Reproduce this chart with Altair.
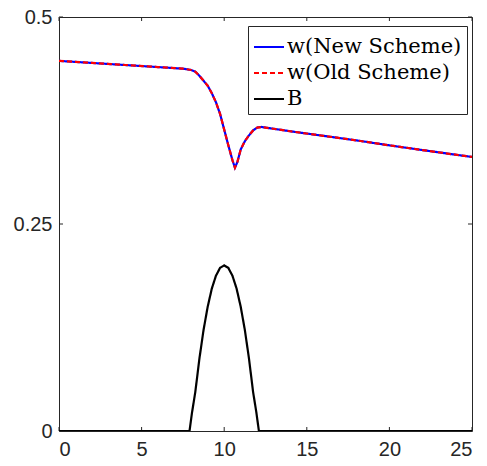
import altair as alt
import pandas as pd

# w profile (new and old schemes overlap)
w_x = [0, 2, 4, 6, 7.5, 8, 8.25, 8.5, 8.75, 9, 9.25, 9.5, 9.75, 10, 10.25, 10.5,
       10.65, 10.8, 11, 11.25, 11.5, 11.75, 12, 12.25, 14, 16, 18, 20, 22, 24, 25]
w_new = [0.447, 0.4445, 0.442, 0.4395, 0.4376, 0.436, 0.434, 0.429, 0.423, 0.417,
         0.408, 0.397, 0.383, 0.364, 0.345, 0.327, 0.318, 0.325, 0.340, 0.350,
         0.357, 0.363, 0.3665, 0.3672, 0.362, 0.3565, 0.351, 0.345, 0.3393, 0.3337, 0.331]
w_old = [0.447, 0.4445, 0.442, 0.4395, 0.4376, 0.436, 0.434, 0.429, 0.423, 0.417,
         0.408, 0.397, 0.383, 0.364, 0.345, 0.327, 0.318, 0.325, 0.340, 0.350,
         0.357, 0.363, 0.3665, 0.3672, 0.362, 0.3565, 0.351, 0.345, 0.3393, 0.3337, 0.331]

# bottom B
b_x = [0, 7.9, 8.05, 8.25, 8.5, 8.75, 9, 9.25, 9.5, 9.75, 10, 10.25, 10.5, 10.75,
       11, 11.25, 11.5, 11.75, 11.95, 12.1, 25]
b_y = [0, 0, 0.022, 0.047, 0.0875, 0.122, 0.15, 0.172, 0.1875, 0.197, 0.2, 0.197,
       0.1875, 0.172, 0.15, 0.122, 0.0875, 0.047, 0.022, 0, 0]

x_ticks = [0, 5, 10, 15, 20, 25]
y_ticks = [0, 0.25, 0.5]

series = ["w(New Scheme)", "w(Old Scheme)", "B"]
colors = ["#0000FF", "#FF0000", "#000000"]
dashes = [[1, 0], [5, 3], [1, 0]]

rows = []
for xv, yv in zip(w_x, w_new):
    rows.append({"x": xv, "y": yv, "s": series[0], "o": 1})
for xv, yv in zip(w_x, w_old):
    rows.append({"x": xv, "y": yv, "s": series[1], "o": 2})
for xv, yv in zip(b_x, b_y):
    rows.append({"x": xv, "y": yv, "s": series[2], "o": 0})
df = pd.DataFrame(rows)

W, H = 413, 414
xs = alt.Scale(domain=[0, 25], nice=False, zero=False)
ys = alt.Scale(domain=[0, 0.5], nice=False, zero=False)

legend = alt.Legend(
    title=None, orient="none", legendX=189, legendY=9,
    symbolType="stroke", symbolSize=900, symbolStrokeWidth=2,
    labelFont="DejaVu Serif", labelFontSize=21, labelColor="#000000",
    labelLimit=400, fillColor="white", strokeColor="#262626",
    padding=5, rowPadding=0, labelOffset=2,
)

def line_layer(name):
    return alt.Chart(df).transform_filter(alt.datum.s == name).mark_line(
        strokeWidth=2.2, clip=True
    ).encode(
        x=alt.X("x:Q", scale=xs, axis=alt.Axis(values=x_ticks, title=None)),
        y=alt.Y("y:Q", scale=ys, axis=alt.Axis(values=y_ticks, title=None, format="~g")),
        color=alt.Color("s:N", scale=alt.Scale(domain=series, range=colors), legend=legend),
        strokeDash=alt.StrokeDash("s:N", scale=alt.Scale(domain=series, range=dashes), legend=legend),
        order="o:Q",
    )

tick_col = "#262626"
xt = pd.DataFrame({"x": x_ticks})
yt = pd.DataFrame({"y": y_ticks})
ticks_bottom = alt.Chart(xt).mark_rule(color=tick_col, strokeWidth=1).encode(
    x=alt.X("x:Q", scale=xs), y=alt.value(H), y2=alt.value(H - 4))
ticks_top = alt.Chart(xt).mark_rule(color=tick_col, strokeWidth=1).encode(
    x=alt.X("x:Q", scale=xs), y=alt.value(0), y2=alt.value(4))
ticks_left = alt.Chart(yt).mark_rule(color=tick_col, strokeWidth=1).encode(
    y=alt.Y("y:Q", scale=ys), x=alt.value(0), x2=alt.value(4))
ticks_right = alt.Chart(yt).mark_rule(color=tick_col, strokeWidth=1).encode(
    y=alt.Y("y:Q", scale=ys), x=alt.value(W), x2=alt.value(W - 4))

chart = alt.layer(
    ticks_bottom, ticks_top, ticks_left, ticks_right,
    line_layer(series[2]), line_layer(series[0]), line_layer(series[1]),
).properties(
    width=W, height=H,
    autosize=alt.AutoSizeParams(type="none"),
    padding={"left": 59, "top": 17, "right": 15, "bottom": 35},
    background="white",
).configure_view(
    stroke="#262626", strokeWidth=1,
).configure_axis(
    grid=False, domain=False, ticks=False,
    labelFont="Liberation Sans", labelFontSize=20, labelColor="#262626",
    labelPadding=7,
).configure_axisX(labelPadding=8)

chart.save("out.html", embed_options={"renderer": "svg", "actions": False})
